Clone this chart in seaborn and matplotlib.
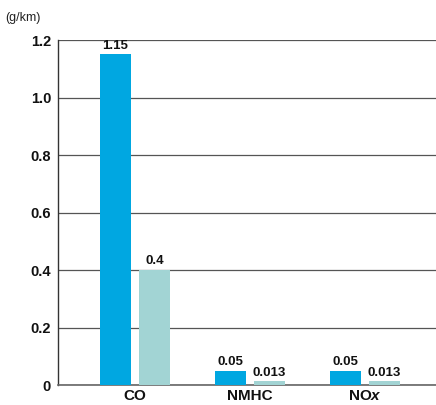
import matplotlib
matplotlib.use("Agg")
import matplotlib.pyplot as plt
import seaborn as sns
import pandas as pd

# Emission values per pollutant (g/km)
pollutants = ["CO", "NMHC", "NOx"]
series_names = ["Standard", "Measured"]
standard_vals = [1.15, 0.05, 0.05]
measured_vals = [0.4, 0.013, 0.013]
value_labels_standard = ["1.15", "0.05", "0.05"]
value_labels_measured = ["0.4", "0.013", "0.013"]
tick_labels = ["CO", "NMHC", "NO$\\it{x}$"]
yticks = [0, 0.2, 0.4, 0.6, 0.8, 1.0, 1.2]
ytick_labels = ["0", "0.2", "0.4", "0.6", "0.8", "1.0", "1.2"]

df = pd.DataFrame({
    "pollutant": pollutants * 2,
    "series": [series_names[0]] * 3 + [series_names[1]] * 3,
    "value": standard_vals + measured_vals,
})

sns.set_style("white")
plt.rcParams["font.family"] = ["Liberation Sans", "DejaVu Sans"]
plt.rcParams["mathtext.fontset"] = "custom"
plt.rcParams["mathtext.it"] = "Liberation Sans:italic:bold"
plt.rcParams["mathtext.rm"] = "Liberation Sans:bold"

fig = plt.figure(figsize=(4.36, 4.05), dpi=100)
ax = fig.add_axes([0.133, 0.049, 0.867, 0.852])

palette = {series_names[0]: "#00A7E1", series_names[1]: "#A2D4D4"}
sns.barplot(data=df, x="pollutant", y="value", hue="series", order=pollutants,
            hue_order=series_names, palette=palette, width=0.68, gap=0.2,
            saturation=1, linewidth=0, legend=False, ax=ax, zorder=3)

# value annotations above each bar
labels_by_series = [value_labels_standard, value_labels_measured]
for container, labels in zip(ax.containers, labels_by_series):
    ax.bar_label(container, labels=labels, padding=2, fontsize=9.5,
                 fontweight="bold", color="#111111")

ax.set_yticks(yticks)
ax.set_yticklabels(ytick_labels, fontsize=10.5, fontweight="bold")
ax.set_xticks(range(len(pollutants)))
ax.set_xticklabels(tick_labels, fontsize=11, fontweight="bold")
ax.set_ylim(0, 1.2)
ax.set_xlim(-0.67, 2.62)
ax.tick_params(axis="y", length=0, pad=5, colors="#111111")
ax.tick_params(axis="x", length=0, pad=2.5, colors="#111111")
ax.set_xlabel("")
ax.set_ylabel("")

ax.grid(axis="y", color="#555555", linewidth=0.9, zorder=0)
ax.set_axisbelow(True)
for side in ["top", "right"]:
    ax.spines[side].set_visible(False)
ax.spines["left"].set_color("#333333")
ax.spines["left"].set_linewidth(1.0)
ax.spines["bottom"].set_color("#666666")
ax.spines["bottom"].set_linewidth(1.2)

fig.text(0.012, 0.955, "(g/km)", fontsize=9, color="#222222", ha="left", va="center")

fig.savefig("out.png", dpi=100)
